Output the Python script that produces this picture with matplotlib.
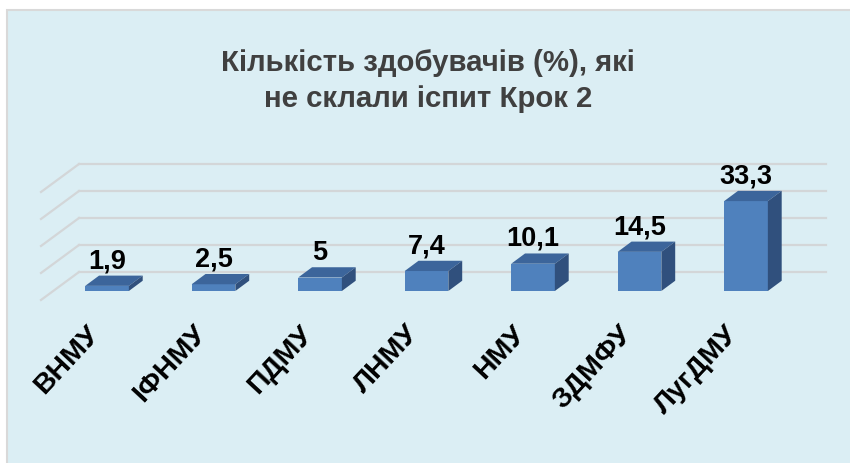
import matplotlib
matplotlib.use("Agg")
import matplotlib.pyplot as plt
from matplotlib.patches import Rectangle, Polygon

plt.rcParams['font.family'] = ['Liberation Sans', 'DejaVu Sans']

# ---- data ----
categories = ["ВНМУ", "ІФНМУ", "ПДМУ", "ЛНМУ", "НМУ", "ЗДМФУ", "ЛугДМУ"]
values = [1.9, 2.5, 5, 7.4, 10.1, 14.5, 33.3]
gridlines = [0, 10, 20, 30, 40]
title = "Кількість здобувачів (%), які\nне склали іспит Крок 2"

# ---- style / pseudo-3D geometry (data units) ----
BG = '#DBEEF4'
GRID = '#D3D6D8'
FRONT = '#4F81BD'
TOP = '#3C659B'
SIDE = '#30507D'
bar_w = 0.41
bar_dx, bar_dy = 0.13, 3.8           # bar depth offset
wall_dx, wall_dy = 0.357, 10.37      # full floor depth offset
front_frac = 0.321                   # bar front plane position within depth
xlim = (-0.62, 6.751)
ylim = (-3.333, 47.04)

W, H = 850, 463
fig = plt.figure(figsize=(W / 100, H / 100), dpi=100)
fig.patch.set_facecolor('white')
fig.patches.append(Rectangle((7 / W, -0.1), 1.2, (1 - 10 / H) + 0.1,
                             transform=fig.transFigure, facecolor=BG,
                             edgecolor='#D9D9D9', lw=1.5, zorder=-5))

ax = fig.add_axes([41 / W, 163 / H, 785 / W, 136 / H])
ax.set_zorder(2)
ax.set_facecolor('none')
ax.set_xlim(*xlim)
ax.set_ylim(*ylim)
for s in ax.spines.values():
    s.set_visible(False)
ax.set_yticks([])

# walls / gridlines
fx = xlim[0]
fy = -front_frac * wall_dy
bx = fx + wall_dx
by = fy + wall_dy
for g in gridlines:
    ax.plot([bx, xlim[1]], [g + by, g + by], color=GRID, lw=1.6, clip_on=False, zorder=1)
    ax.plot([fx, bx], [g + fy, g + by], color=GRID, lw=1.6, clip_on=False, zorder=1)

# bars
xs = list(range(len(categories)))
ax.bar(xs, values, width=bar_w, color=FRONT, zorder=3, clip_on=False)
for x, v in zip(xs, values):
    l, r = x - bar_w / 2, x + bar_w / 2
    ax.add_patch(Polygon([(l, v), (r, v), (r + bar_dx, v + bar_dy), (l + bar_dx, v + bar_dy)],
                         closed=True, facecolor=TOP, edgecolor='none', zorder=3, clip_on=False))
    ax.add_patch(Polygon([(r, 0), (r + bar_dx, bar_dy), (r + bar_dx, v + bar_dy), (r, v)],
                         closed=True, facecolor=SIDE, edgecolor='none', zorder=3, clip_on=False))
    ax.annotate(f"{v:g}".replace('.', ','), (x, v + bar_dy), xytext=(0, 5.4),
                textcoords='offset points', ha='center', va='baseline',
                fontsize=19.5, fontweight='bold', color='black', zorder=4)

# category labels
ax.set_xticks([x - 0.02 for x in xs])
ax.set_xticklabels(categories, rotation=47, ha='right', fontsize=20.5,
                   fontweight='bold', color='black')
ax.tick_params(axis='x', length=0, pad=15)

fig.text(428 / W, 1 - 106.7 / H, title, ha='center', va='baseline',
         fontsize=21.2, fontweight='bold', color='#404040', linespacing=1.33)

fig.savefig('out.png', dpi=100, facecolor=fig.get_facecolor())
